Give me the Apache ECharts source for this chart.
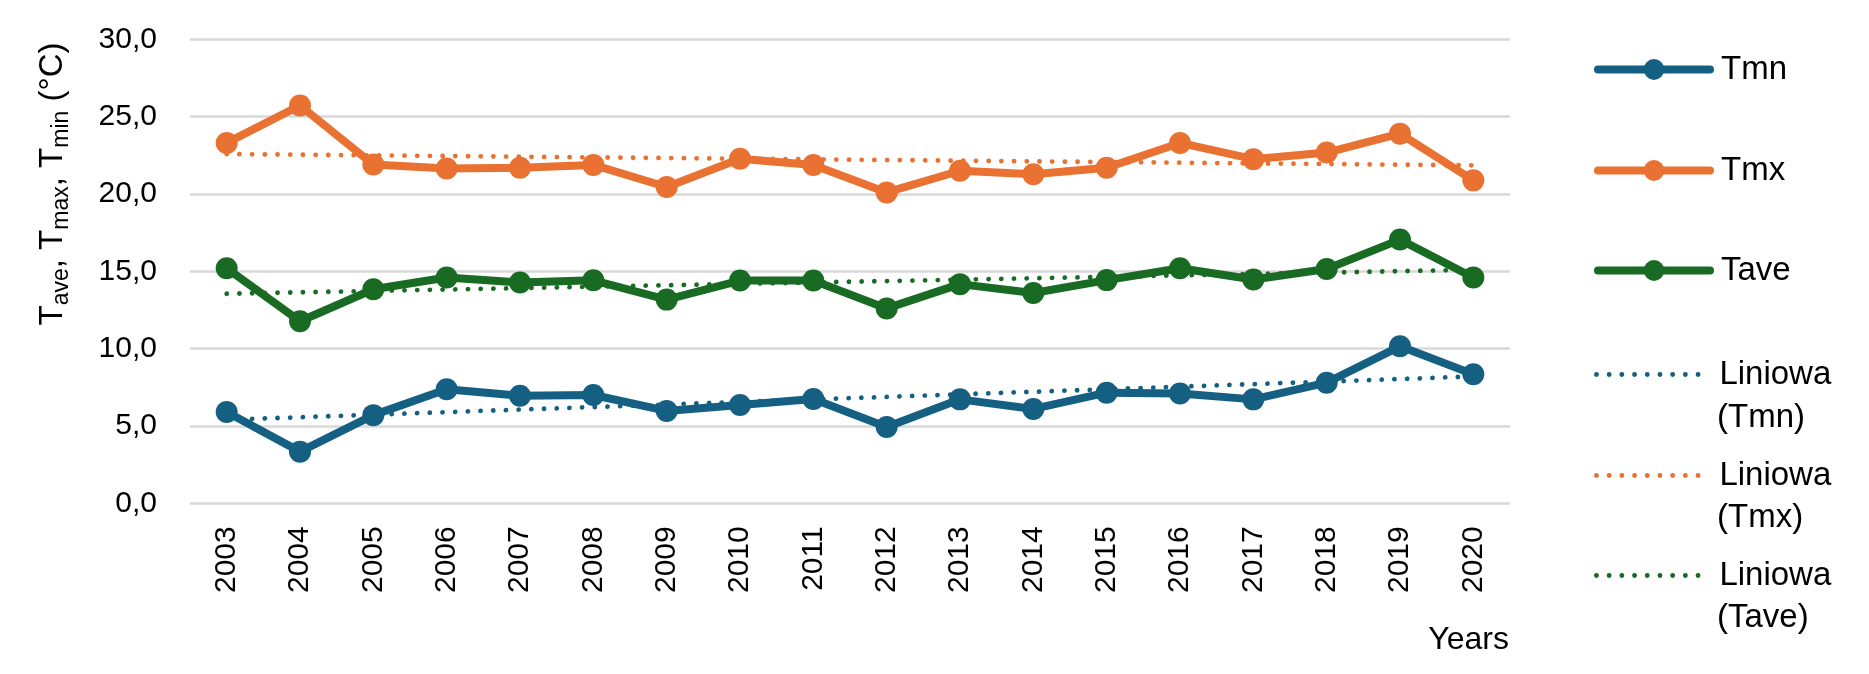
<!DOCTYPE html>
<html><head><meta charset="utf-8">
<script src="https://cdn.jsdelivr.net/npm/echarts@6/dist/echarts.min.js"></script>
<style>html,body{margin:0;padding:0;background:#fff}#c{width:1869px;height:674px}</style>
</head><body><div id="c"></div>
<script>
const years = ['2003','2004','2005','2006','2007','2008','2009','2010','2011','2012','2013','2014','2015','2016','2017','2018','2019','2020'];
const tmn  = [5.9, 3.34, 5.7, 7.38, 6.95, 7.0, 5.97, 6.35, 6.74, 4.93, 6.72, 6.1, 7.15, 7.1, 6.72, 7.8, 10.15, 8.35];
const tmx  = [23.3, 25.72, 21.9, 21.65, 21.7, 21.88, 20.45, 22.28, 21.87, 20.1, 21.5, 21.27, 21.7, 23.3, 22.25, 22.68, 23.9, 20.88];
const tave = [15.2, 11.77, 13.84, 14.6, 14.27, 14.42, 13.17, 14.4, 14.4, 12.6, 14.17, 13.6, 14.43, 15.2, 14.47, 15.15, 17.05, 14.6];
// linear trend lines (first and last year)
const trendTmn  = [5.4, 8.2];
const trendTmx  = [22.58, 21.85];
const trendTave = [13.55, 15.1];
const yTicks = [0, 5, 10, 15, 20, 25, 30];

const C1 = '#156082', C2 = '#E97132', C3 = '#196B24';
const FONT = '"Liberation Sans", Arial, sans-serif';
const TXT = '#000';

function trendData(ends) {
  const arr = years.map(() => null);
  arr[0] = ends[0];
  arr[arr.length - 1] = ends[1];
  return arr;
}

const chart = echarts.init(document.getElementById('c'));

const DOT = { width: 4.8, type: [0.1, 12.6], cap: 'round' };

function solid(name, data, color) {
  return {
    name, type: 'line', data, z: 2,
    symbol: 'circle', symbolSize: 22,
    lineStyle: { color, width: 8, join: 'round' },
    itemStyle: { color },
    emphasis: { disabled: true }
  };
}
function trend(name, ends, color) {
  return {
    name, type: 'line', data: trendData(ends), connectNulls: true, z: 3,
    symbol: 'none',
    lineStyle: Object.assign({ color }, DOT),
    itemStyle: { color },
    emphasis: { disabled: true }
  };
}

const legendDefs = [
  ['Tmn', 66, C1, false], ['Tmx', 167, C2, false], ['Tave', 267, C3, false],
  ['Liniowa (Tmn)', 371, C1, true], ['Liniowa (Tmx)', 472, C2, true], ['Liniowa (Tave)', 572, C3, true]
];
const legends = legendDefs.map(([name, cy, color, isTrend]) => ({
  data: [name],
  orient: 'vertical',
  left: 1594, top: cy - 13,
  padding: 0,
  itemWidth: 112, itemHeight: 26,
  selectedMode: false,
  formatter: n => n.startsWith('Liniowa') ? 'Liniowa' : n,
  lineStyle: isTrend ? Object.assign({ color }, DOT) : { color, width: 8, cap: 'round' },
  itemStyle: isTrend ? { color: 'rgba(0,0,0,0)', borderWidth: 0 } : { color, borderWidth: 0 },
  textStyle: { fontFamily: FONT, fontSize: 33, color: TXT, lineHeight: 26, padding: [0, 0, 0, 6] }
}));

chart.setOption({
  animation: false,
  backgroundColor: '#fff',
  grid: { left: 190, right: 359, top: 39.3, bottom: 170.7 },
  legend: legends,
  xAxis: {
    type: 'category', data: years, boundaryGap: true,
    axisLine: { show: false }, axisTick: { show: false },
    axisLabel: { rotate: 90, margin: 23, fontFamily: FONT, fontSize: 30, color: TXT }
  },
  yAxis: {
    type: 'value', min: yTicks[0], max: yTicks[yTicks.length - 1], interval: 5,
    axisLine: { show: false }, axisTick: { show: false },
    splitLine: { lineStyle: { color: '#d9d9d9', width: 2.5 } },
    axisLabel: { margin: 33, fontFamily: FONT, fontSize: 30, color: TXT,
      formatter: v => v.toFixed(1).replace('.', ',') }
  },
  series: [
    solid('Tmn', tmn, C1),
    solid('Tmx', tmx, C2),
    solid('Tave', tave, C3),
    trend('Liniowa (Tmn)', trendTmn, C1),
    trend('Liniowa (Tmx)', trendTmx, C2),
    trend('Liniowa (Tave)', trendTave, C3)
  ],
  graphic: [
    { type: 'text', x: 1717, y: 418, style: { text: '(Tmn)', font: '33px ' + FONT, fill: TXT, verticalAlign: 'middle' } },
    { type: 'text', x: 1717, y: 518, style: { text: '(Tmx)', font: '33px ' + FONT, fill: TXT, verticalAlign: 'middle' } },
    { type: 'text', x: 1717, y: 618, style: { text: '(Tave)', font: '33px ' + FONT, fill: TXT, verticalAlign: 'middle' } },
    { type: 'text', x: 1509, y: 640, style: { text: 'Years', font: '32px ' + FONT, fill: TXT, align: 'right', verticalAlign: 'middle' } },
    { type: 'text', x: 53, y: 184, rotation: Math.PI / 2,
      style: {
        text: 'T{s|ave}, T{s|max}, T{s|min} (°C)',
        fontFamily: FONT, fontSize: 33, fill: TXT, lineHeight: 40,
        align: 'center', verticalAlign: 'middle',
        rich: { s: { fontFamily: FONT, fontSize: 23, lineHeight: 24, verticalAlign: 'bottom', fill: TXT } }
      } }
  ]
});
</script></body></html>
